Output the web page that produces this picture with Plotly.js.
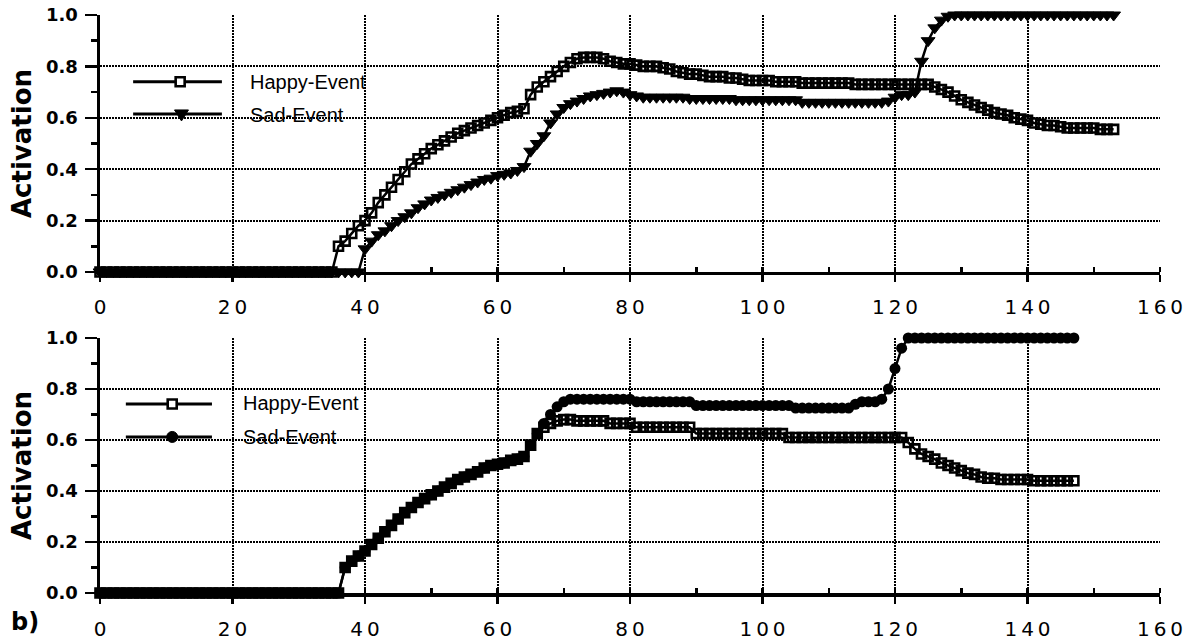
<!DOCTYPE html>
<html><head><meta charset="utf-8">
<script src="https://cdn.plot.ly/plotly-3.0.1.min.js"></script>
<style>html,body{margin:0;padding:0;background:#fff}#chart{width:1194px;height:641px}</style>
</head><body><div id="chart"></div>
<script>
// time steps
const stepsTop = [0,1,2,3,4,5,6,7,8,9,10,11,12,13,14,15,16,17,18,19,20,21,22,23,24,25,26,27,28,29,30,31,32,33,34,35,36,37,38,39,40,41,42,43,44,45,46,47,48,49,50,51,52,53,54,55,56,57,58,59,60,61,62,63,64,65,66,67,68,69,70,71,72,73,74,75,76,77,78,79,80,81,82,83,84,85,86,87,88,89,90,91,92,93,94,95,96,97,98,99,100,101,102,103,104,105,106,107,108,109,110,111,112,113,114,115,116,117,118,119,120,121,122,123,124,125,126,127,128,129,130,131,132,133,134,135,136,137,138,139,140,141,142,143,144,145,146,147,148,149,150,151,152,153];
const stepsBottom = [0,1,2,3,4,5,6,7,8,9,10,11,12,13,14,15,16,17,18,19,20,21,22,23,24,25,26,27,28,29,30,31,32,33,34,35,36,37,38,39,40,41,42,43,44,45,46,47,48,49,50,51,52,53,54,55,56,57,58,59,60,61,62,63,64,65,66,67,68,69,70,71,72,73,74,75,76,77,78,79,80,81,82,83,84,85,86,87,88,89,90,91,92,93,94,95,96,97,98,99,100,101,102,103,104,105,106,107,108,109,110,111,112,113,114,115,116,117,118,119,120,121,122,123,124,125,126,127,128,129,130,131,132,133,134,135,136,137,138,139,140,141,142,143,144,145,146,147];

// top panel (a)
const topHappy = [0,0,0,0,0,0,0,0,0,0, 0,0,0,0,0,0,0,0,0,0, 0,0,0,0,0,0,0,0,0,0, 0,0,0,0,0,0,
 0.10,0.12,0.15,0.18,0.20,0.23,0.27,0.30,0.33,0.36,
 0.39,0.42,0.44,0.46,0.48,0.495,0.51,0.525,0.54,0.55,
 0.56,0.57,0.58,0.59,0.60,0.61,0.62,0.625,0.635,0.69,
 0.72,0.74,0.76,0.78,0.80,0.815,0.83,0.835,0.835,0.835,
 0.83,0.82,0.815,0.81,0.81,0.805,0.80,0.80,0.80,0.795,
 0.79,0.78,0.775,0.77,0.77,0.765,0.76,0.76,0.76,0.755,
 0.755,0.75,0.745,0.745,0.745,0.745,0.74,0.74,0.74,0.74,
 0.735,0.735,0.735,0.735,0.735,0.735,0.735,0.735,0.73,0.73,
 0.73,0.73,0.73,0.73,0.73,0.73,0.73,0.73,0.73,0.73,
 0.72,0.71,0.70,0.685,0.67,0.66,0.65,0.64,0.63,0.62,
 0.615,0.61,0.60,0.595,0.59,0.58,0.575,0.57,0.57,0.565,
 0.56,0.56,0.56,0.56,0.56,0.555,0.555,0.555];
const topSad = [0,0,0,0,0,0,0,0,0,0, 0,0,0,0,0,0,0,0,0,0, 0,0,0,0,0,0,0,0,0,0, 0,0,0,0,0,0,0,0,0,0,
 0.09,0.12,0.145,0.16,0.18,0.20,0.215,0.23,0.25,0.265,
 0.28,0.29,0.30,0.31,0.32,0.33,0.34,0.35,0.36,0.365,
 0.375,0.38,0.385,0.395,0.41,0.47,0.50,0.53,0.58,0.615,
 0.64,0.655,0.665,0.675,0.685,0.69,0.695,0.70,0.705,0.70,
 0.69,0.685,0.68,0.68,0.68,0.68,0.68,0.68,0.68,0.675,
 0.675,0.675,0.675,0.675,0.675,0.675,0.67,0.67,0.67,0.67,
 0.67,0.67,0.67,0.67,0.67,0.67,0.66,0.66,0.66,0.66,
 0.66,0.66,0.66,0.66,0.66,0.66,0.66,0.66,0.66,0.665,
 0.68,0.69,0.69,0.70,0.82,0.90,0.95,0.98,0.995,1.0,
 1.0,1.0,1.0,1.0,1.0,1.0,1.0,1.0,1.0,1.0,
 1.0,1.0,1.0,1.0,1.0,1.0,1.0,1.0,1.0,1.0,
 1.0,1.0,1.0,1.0];

// bottom panel (b)
const bottomHappy = [0,0,0,0,0,0,0,0,0,0, 0,0,0,0,0,0,0,0,0,0, 0,0,0,0,0,0,0,0,0,0, 0,0,0,0,0,0,0,
 0.10,0.125,0.145,0.165,0.19,0.215,0.24,0.265,0.29,0.315,
 0.335,0.355,0.37,0.385,0.40,0.415,0.43,0.445,0.455,0.465,
 0.475,0.49,0.50,0.505,0.51,0.52,0.525,0.535,0.58,0.625,
 0.65,0.665,0.675,0.68,0.68,0.675,0.675,0.675,0.675,0.675,
 0.665,0.665,0.665,0.665,0.65,0.65,0.65,0.65,0.65,0.65,
 0.65,0.65,0.65,0.625,0.625,0.625,0.625,0.625,0.625,0.625,
 0.625,0.625,0.625,0.625,0.625,0.625,0.625,0.61,0.61,0.61,
 0.61,0.61,0.61,0.61,0.61,0.61,0.61,0.61,0.61,0.61,
 0.61,0.61,0.61,0.61,0.61,0.59,0.565,0.545,0.535,0.525,
 0.51,0.50,0.49,0.48,0.47,0.465,0.455,0.45,0.45,0.445,
 0.445,0.445,0.445,0.445,0.44,0.44,0.44,0.44,0.44,0.44,
 0.44];
const bottomSad = [0,0,0,0,0,0,0,0,0,0, 0,0,0,0,0,0,0,0,0,0, 0,0,0,0,0,0,0,0,0,0, 0,0,0,0,0,0,0,
 0.10,0.125,0.145,0.165,0.19,0.215,0.24,0.265,0.29,0.315,
 0.335,0.355,0.37,0.385,0.40,0.415,0.43,0.445,0.455,0.465,
 0.475,0.49,0.50,0.505,0.51,0.52,0.525,0.535,0.58,0.625,
 0.665,0.70,0.73,0.75,0.76,0.76,0.76,0.76,0.76,0.76,
 0.76,0.76,0.76,0.76,0.75,0.75,0.75,0.75,0.75,0.75,
 0.75,0.75,0.75,0.735,0.735,0.735,0.735,0.735,0.735,0.735,
 0.735,0.735,0.735,0.735,0.735,0.735,0.735,0.735,0.725,0.725,
 0.725,0.725,0.725,0.725,0.725,0.725,0.725,0.74,0.75,0.75,
 0.75,0.76,0.80,0.88,0.96,1.0,1.0,1.0,1.0,1.0,
 1.0,1.0,1.0,1.0,1.0,1.0,1.0,1.0,1.0,1.0,
 1.0,1.0,1.0,1.0,1.0,1.0,1.0,1.0,1.0,1.0,
 1.0];

const seriesNames = ['Happy-Event', 'Sad-Event'];
const xTickVals = [0,20,40,60,80,100,120,140,160];
const xTickText = ['0','2\u20090','4\u20090','6\u20090','8\u20090','1\u20090\u20090','1\u20092\u20090','1\u20094\u20090','1\u20096\u20090'];
const yTitle = 'Activation';
const panelLabel = 'b)';

const K = '#000';
function line(xa, ya, xs, ys, sym, size, lw, name) {
  return {x: xs, y: ys, xaxis: xa, yaxis: ya, name: name, type: 'scatter', mode: 'lines+markers',
    line: {color: K, width: 2.5}, cliponaxis: false, showlegend: false, hoverinfo: 'skip',
    marker: {symbol: sym, size: size, color: K, line: {color: K, width: lw}}};
}
const data = [
  line('x', 'y', stepsTop, topHappy, 'square-open', 9, 2.6, seriesNames[0]),
  line('x', 'y', stepsTop, topSad, 'triangle-down', 12, 1, seriesNames[1]),
  line('x2', 'y2', stepsBottom, bottomSad, 'circle', 11, 0, seriesNames[1]),
  line('x2', 'y2', stepsBottom, bottomHappy, 'square-open', 9, 2.6, seriesNames[0])
];

function xax(anchor) {
  return {domain: [0, 1], anchor: anchor, range: [0, 160], tickmode: 'array', tickvals: xTickVals, ticktext: xTickText,
    ticks: 'outside', ticklen: 7, tickwidth: 2.5, tickcolor: K, ticklabelstandoff: 8,
    showline: true, linewidth: 3.5, linecolor: K, zeroline: false,
    showgrid: true, gridcolor: K, gridwidth: 2, griddash: '2px,1px',
    minor: {tickmode: 'linear', tick0: 0, dtick: 10, ticks: 'inside', ticklen: 5, tickwidth: 2.5, tickcolor: K, showgrid: false},
    tickfont: {family: 'DejaVu Sans', size: 20, color: K}, fixedrange: true};
}
function yax(anchor, dom) {
  return {domain: dom, anchor: anchor, range: [0, 1], tickmode: 'linear', tick0: 0, dtick: 0.2, tickformat: '.1f',
    ticks: 'outside', ticklen: 12, tickwidth: 2.5, tickcolor: K, ticklabelstandoff: 3,
    showline: true, linewidth: 3.5, linecolor: K, zeroline: false,
    showgrid: true, gridcolor: K, gridwidth: 2, griddash: '2px,1px',
    minor: {tickmode: 'linear', tick0: 0, dtick: 0.1, ticks: 'outside', ticklen: 6, tickwidth: 2.5, tickcolor: K, showgrid: false},
    tickfont: {family: 'DejaVu Sans', size: 18, weight: 'bold', color: K},
    title: {text: yTitle, standoff: 8, font: {family: 'DejaVu Sans', size: 26, weight: 'bold', color: K}},
    fixedrange: true};
}

// legend glyphs (not data)
const legendFont = {family: 'Liberation Sans', size: 20, color: K};
const shapes = [
  {type: 'line', xref: 'x', yref: 'y', x0: 5, x1: 18.4, y0: 0.74, y1: 0.74, line: {color: K, width: 3}},
  {type: 'line', xref: 'x', yref: 'y', x0: 5, x1: 18.4, y0: 0.615, y1: 0.615, line: {color: K, width: 3}},
  {type: 'rect', xref: 'x', yref: 'y', xsizemode: 'pixel', ysizemode: 'pixel', xanchor: 12.1, yanchor: 0.74, x0: -4.5, x1: 4.5, y0: -4.5, y1: 4.5, fillcolor: '#fff', line: {color: K, width: 2.6}},
  {type: 'path', xref: 'x', yref: 'y', xsizemode: 'pixel', ysizemode: 'pixel', xanchor: 12.3, yanchor: 0.615, path: 'M-7,4 L7,4 L0,-7 Z', fillcolor: K, line: {color: K, width: 1}},
  {type: 'line', xref: 'x2', yref: 'y2', x0: 3.9, x1: 16.9, y0: 0.741, y1: 0.741, line: {color: K, width: 3}},
  {type: 'line', xref: 'x2', yref: 'y2', x0: 3.9, x1: 16.9, y0: 0.612, y1: 0.612, line: {color: K, width: 3}},
  {type: 'rect', xref: 'x2', yref: 'y2', xsizemode: 'pixel', ysizemode: 'pixel', xanchor: 10.9, yanchor: 0.741, x0: -4.5, x1: 4.5, y0: -4.5, y1: 4.5, fillcolor: '#fff', line: {color: K, width: 2.6}},
  {type: 'circle', xref: 'x2', yref: 'y2', xsizemode: 'pixel', ysizemode: 'pixel', xanchor: 10.9, yanchor: 0.612, x0: -5.5, x1: 5.5, y0: -5.5, y1: 5.5, fillcolor: K, line: {color: K, width: 1}}
];
const annotations = [
  {xref: 'x', yref: 'y', x: 22.3, y: 0.74, text: seriesNames[0], showarrow: false, xanchor: 'left', yanchor: 'middle', font: legendFont},
  {xref: 'x', yref: 'y', x: 22.3, y: 0.61, text: seriesNames[1], showarrow: false, xanchor: 'left', yanchor: 'middle', font: legendFont},
  {xref: 'x2', yref: 'y2', x: 21.3, y: 0.745, text: seriesNames[0], showarrow: false, xanchor: 'left', yanchor: 'middle', font: legendFont},
  {xref: 'x2', yref: 'y2', x: 21.3, y: 0.612, text: seriesNames[1], showarrow: false, xanchor: 'left', yanchor: 'middle', font: legendFont},
  {xref: 'paper', yref: 'paper', x: -0.0708, y: -0.05, text: panelLabel, showarrow: false, xanchor: 'center', yanchor: 'middle', font: {family: 'DejaVu Sans', size: 24, weight: 'bold', color: K}}
];

const layout = {
  width: 1194, height: 641, margin: {l: 100, r: 34, t: 15, b: 48},
  paper_bgcolor: '#fff', plot_bgcolor: '#fff', showlegend: false,
  xaxis: xax('y'), yaxis: yax('x', [0.5554, 1]),
  xaxis2: xax('y2'), yaxis2: yax('x2', [0, 0.4412]),
  shapes: shapes, annotations: annotations
};
Plotly.newPlot('chart', data, layout, {staticPlot: true, displayModeBar: false});
</script></body></html>
